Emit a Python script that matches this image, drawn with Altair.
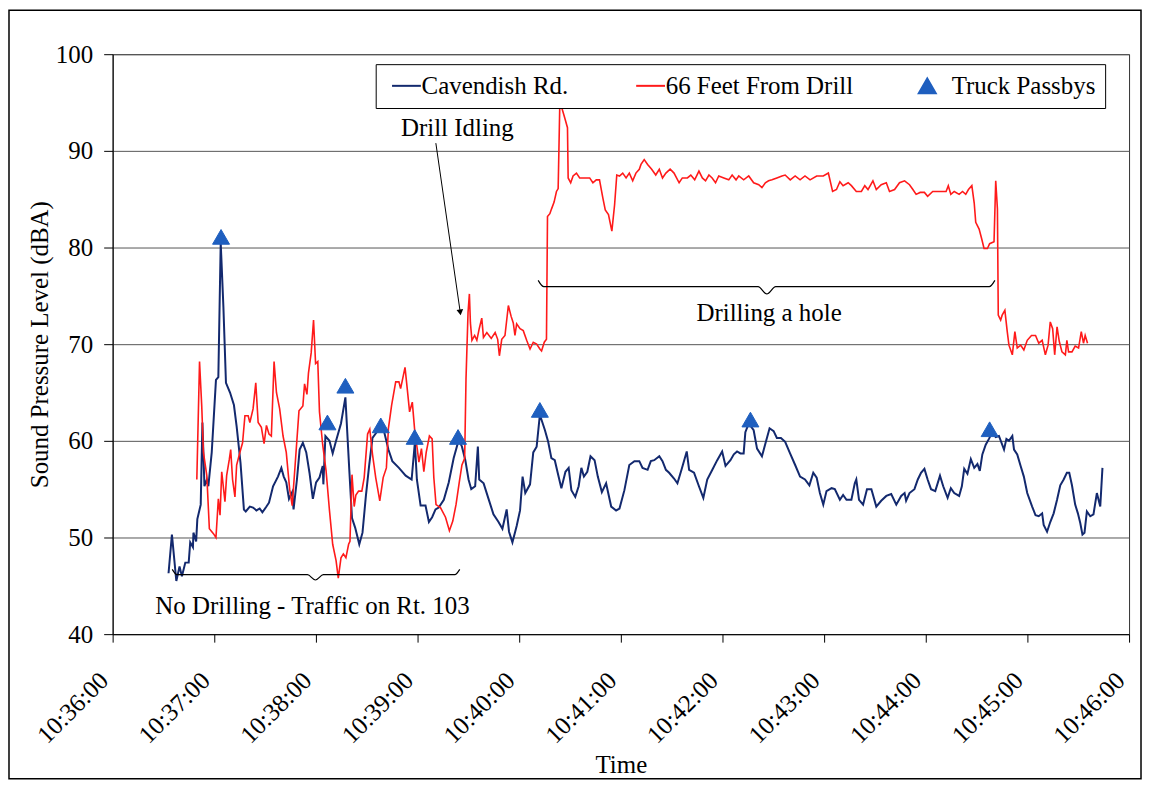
import altair as alt
import pandas as pd

# ---------------- data (seconds after 10:36:00, dBA) ----------------
cav_t = [33.0, 35.0, 37.6, 39.5, 40.9, 42.9, 44.9, 45.8, 47.4, 47.7, 49.3, 50.0, 52.0, 53.0, 54.2,
         55.6, 56.5, 58.5, 61.0, 62.4, 63.8, 65.4, 66.9, 69.3, 71.6, 73.2, 75.5, 77.5, 78.6, 81.0,
         82.9, 84.9, 86.8, 88.4, 90.8, 92.3, 94.7, 97.6, 99.6, 101.0, 102.5, 104.1, 106.0, 106.8,
         108.8, 110.4, 112.3, 114.3, 116.2, 118.2, 120.1, 122.1, 124.0, 124.4, 125.6, 128.0, 129.9,
         131.9, 134.8, 137.4, 139.7, 141.3, 143.2, 145.6, 147.5, 149.5, 151.4, 153.4, 156.3, 160.2,
         162.8, 165.1, 169.0, 173.0, 176.5, 178.4, 179.6, 181.8, 184.7, 186.7, 188.6, 190.6, 192.5,
         195.5, 198.4, 201.3, 204.3, 206.2, 208.2, 210.1, 211.7, 214.0, 215.6, 216.4, 219.0, 221.9,
         224.8, 227.8, 230.1, 232.6, 234.0, 236.0, 238.5, 240.5, 242.0, 243.6, 246.4, 248.3, 250.3,
         252.2, 255.2, 257.1, 259.0, 261.0, 263.0, 264.9, 267.3, 269.2, 270.8, 273.1, 275.1, 276.7,
         278.2, 280.2, 282.1, 284.5, 286.4, 288.8, 291.3, 294.3, 297.2, 299.2, 302.1, 305.0, 308.0,
         310.9, 312.8, 315.8, 317.7, 319.7, 322.7, 324.6, 326.6, 328.5, 331.4, 333.4, 335.8, 338.9,
         340.3, 343.2, 346.1, 348.7, 351.0, 354.0, 356.9, 359.8, 361.8, 364.7, 366.7, 368.6, 370.6,
         372.5, 373.5, 375.5, 378.4, 380.4, 383.3, 385.3, 387.8, 390.2, 392.1, 394.5, 397.0, 399.9,
         402.9, 405.8, 408.7, 411.3, 413.6, 415.6, 417.5, 419.5, 421.4, 424.4, 426.3, 429.3, 431.2,
         433.2, 436.1, 438.1, 439.0, 440.6, 443.0, 445.3, 447.9, 450.8, 453.7, 456.7, 459.6, 462.6,
         465.5, 467.5, 468.4, 470.4, 473.3, 475.3, 477.2, 479.2, 481.1, 483.1, 485.6, 488.4, 490.3,
         492.9, 494.8, 496.8, 499.7, 501.3, 502.7, 504.6, 506.6, 508.6, 510.5, 511.9, 513.4, 515.4,
         517.3, 519.3, 521.3, 523.2, 526.2, 527.6, 529.1, 531.1, 532.1, 534.0, 536.0, 537.9, 539.9,
         542.8, 544.8, 546.7, 548.7, 549.6, 551.6, 553.5, 555.5, 557.5, 559.4, 561.4, 563.3, 564.7,
         566.3, 568.2, 569.8, 571.2, 572.5, 573.7, 575.1, 577.1, 579.0, 581.0, 583.0, 584.3]
cav_v = [46.3, 50.3, 45.5, 47.0, 46.0, 47.4, 47.4, 49.5, 49.0, 50.5, 49.6, 51.9, 53.4, 61.9, 55.3,
         56.0, 55.3, 58.8, 66.3, 66.6, 80.5, 73.8, 66.0, 65.0, 63.7, 61.5, 57.7, 52.9, 52.7, 53.2,
         53.1, 52.8, 53.0, 52.6, 53.2, 53.6, 55.3, 56.3, 57.2, 56.3, 55.7, 54.0, 54.7, 52.9,
         56.0, 59.1, 59.8, 58.8, 56.7, 54.0, 55.7, 56.2, 57.4, 55.5, 60.5, 60.0, 58.7,
         60.0, 61.8, 64.5, 57.0, 52.0, 51.0, 49.3, 50.5, 54.3, 57.4, 60.3, 61.0, 61.0,
         59.1, 57.9, 57.2, 56.4, 56.0, 59.8, 56.0, 53.3, 53.3, 51.6, 52.1, 52.9, 53.1,
         53.9, 55.7, 58.2, 60.1, 59.4, 58.0, 56.0, 55.0, 55.3, 59.4, 56.0, 55.6, 54.0,
         52.4, 51.6, 50.9, 52.9, 50.6, 49.5, 51.2, 52.8, 56.3, 54.6, 55.5, 58.8, 59.4,
         62.7, 61.1, 59.9, 58.2, 58.0, 56.5, 55.1, 56.8, 57.2, 54.9, 54.2, 55.3, 57.2,
         56.3, 56.8, 58.4, 58.0, 56.3, 54.7, 55.6, 53.2, 52.8, 53.0, 54.9, 57.5, 57.9,
         57.9, 57.2, 57.0, 57.9, 58.0, 58.4, 57.9, 57.0, 56.7, 56.1, 55.6, 57.0, 58.9,
         57.0, 56.7, 55.3, 54.1, 56.0, 57.0, 58.0, 58.9, 57.4, 58.0, 58.6, 58.9, 58.7,
         58.7, 60.9, 61.8, 61.1, 59.2, 58.4, 59.7, 61.3, 61.0, 60.3, 60.3, 59.9, 58.7,
         57.5, 56.3, 56.0, 55.4, 56.7, 56.2, 54.6, 53.4, 54.8, 55.1, 55.0, 53.9, 54.4,
         53.9, 53.9, 55.6, 56.0, 53.9, 53.4, 55.0, 55.0, 53.2, 53.8, 54.3, 54.5, 53.4,
         54.3, 54.6, 53.8, 54.6, 55.0, 56.0, 56.7, 57.1, 56.0, 55.0, 54.8, 56.4, 55.3,
         54.1, 55.1, 54.6, 54.3, 55.3, 57.1, 56.6, 58.1, 57.2, 57.6, 56.9, 58.6, 59.6,
         60.2, 60.9, 60.4, 60.5, 59.1, 60.2, 60.0, 60.5, 59.1, 58.6, 57.4, 56.3, 54.6,
         53.2, 52.3, 52.2, 52.5, 51.3, 50.6, 51.6, 52.5, 53.9, 55.4, 56.0, 56.7, 56.7,
         55.4, 53.4, 52.5, 51.5, 50.3, 50.5, 52.7, 52.2, 52.4, 54.6, 53.2, 57.2]

drill_t = [49.7, 51.3, 52.6, 53.6, 55.6, 57.1, 59.5, 61.0, 62.4, 63.4, 64.4, 66.3, 67.3, 68.9, 69.7,
           70.8, 72.2, 73.2, 75.1, 76.7, 78.1, 80.0, 81.0, 82.9, 84.5, 85.9, 87.8, 89.4, 90.8, 92.3,
           93.7, 95.3, 96.7, 98.6, 100.6, 102.5, 104.5, 106.0, 107.4, 110.0, 112.3, 113.3, 114.7,
           115.6, 117.2, 118.6, 119.8, 121.1, 122.1, 124.0, 126.0, 128.0, 129.9, 131.9, 133.2,
           134.8, 136.2, 137.7, 139.3, 140.1, 141.3, 142.6, 143.6, 145.2, 147.1, 148.5, 150.5,
           151.8, 153.4, 155.3, 157.7, 159.7, 161.6, 162.8, 164.7, 167.1, 169.0, 170.0, 172.6,
           173.9, 175.3, 176.9, 178.4, 179.8, 180.8, 182.3, 183.7, 185.1, 187.0, 188.6, 189.6,
           190.9, 193.5, 196.5, 198.8, 200.8, 202.7, 204.7, 206.2, 207.8, 208.6, 209.8, 210.6,
           211.2, 212.1, 213.7, 215.0, 216.4, 217.9, 218.9, 220.9, 223.5, 225.8, 227.3, 228.3,
           229.7, 231.6, 233.6, 235.2, 236.5, 237.5, 238.5, 240.5, 242.4, 244.4, 246.4, 248.3,
           250.3, 252.2, 253.2, 254.8, 256.1, 256.7, 258.1, 259.1, 260.6, 262.0, 263.0, 264.0,
           265.4, 266.9, 268.5, 268.9, 270.4, 271.8, 273.8, 275.7, 278.6, 281.6, 283.5, 285.5,
           287.4, 289.4, 290.8, 292.7, 294.7, 296.3, 297.6, 299.2, 301.1, 303.1, 305.0, 307.0,
           308.9, 310.9, 311.9, 313.8, 315.8, 318.2, 320.6, 322.7, 324.6, 326.6, 329.1, 331.4,
           334.4, 336.3, 339.3, 341.3, 343.6, 346.1, 348.1, 350.0, 352.0, 353.9, 355.9, 357.8,
           360.8, 363.7, 365.7, 368.0, 369.6, 372.5, 375.5, 378.4, 381.4, 383.3, 385.3, 387.2,
           389.2, 392.1, 395.1, 397.0, 400.0, 402.9, 405.8, 408.7, 411.7, 415.6, 419.5, 422.5,
           425.0, 427.3, 429.3, 431.2, 434.2, 436.1, 439.0, 442.0, 444.0, 445.9, 448.8, 450.8,
           453.7, 456.7, 458.6, 461.6, 464.5, 467.5, 470.4, 472.4, 474.3, 476.7, 479.2, 481.1,
           484.1, 488.0, 492.0, 493.3, 494.8, 496.8, 499.7, 501.7, 503.6, 505.2, 507.2, 508.6,
           509.5, 511.5, 513.0, 514.4, 516.4, 517.7, 520.3, 521.3, 522.3, 522.8, 524.2, 525.1,
           526.7, 528.1, 529.1, 531.1, 532.6, 534.0, 536.0, 537.9, 539.9, 542.4, 544.8, 546.7,
           548.7, 550.6, 552.2, 553.5, 554.9, 556.1, 557.5, 558.8, 560.4, 562.4, 563.3, 564.3,
           566.3, 568.2, 570.2, 571.8, 573.1, 574.1, 575.5]
drill_v = [56.0, 68.2, 63.6, 58.8, 56.4, 50.9, 50.4, 50.0, 54.0, 52.3, 56.8, 53.7, 56.4, 58.1, 59.1,
           56.0, 54.2, 57.5, 58.8, 59.8, 62.6, 62.6, 61.9, 63.3, 66.0, 61.9, 61.4, 59.7, 61.6, 60.7,
           60.5, 68.2, 65.0, 63.3, 60.5, 58.8, 55.0, 53.3, 56.7, 63.1, 63.6, 65.9, 64.8,
           67.0, 69.1, 72.5, 68.0, 68.2, 63.0, 59.6, 56.9, 52.8, 49.3, 47.6, 45.8,
           47.9, 48.3, 47.9, 49.3, 49.6, 56.5, 53.2, 54.4, 54.8, 54.8, 56.2, 60.7,
           61.2, 58.6, 56.2, 53.8, 56.2, 57.2, 61.3, 63.7, 66.1, 66.1, 65.4, 67.6,
           65.4, 63.0, 64.0, 60.9, 59.2, 57.8, 59.2, 56.8, 58.8, 60.5, 60.2, 56.2,
           53.4, 53.1, 52.1, 50.7, 51.7, 53.4, 55.8, 57.5, 58.2, 66.4, 73.3, 75.2,
           72.2, 70.4, 70.9, 70.4, 71.6, 72.7, 70.7, 71.2, 70.6, 71.2, 70.5, 68.8,
           70.5, 70.9, 74.0, 72.9, 72.2, 70.9, 72.1, 71.6, 71.4, 70.4, 69.5, 70.2,
           70.0, 69.5, 69.3, 70.2, 70.5, 83.2, 83.5, 84.0, 84.7, 85.8, 86.1, 95.1,
           94.3, 93.4, 92.4, 87.2, 86.7, 87.4, 87.7, 87.2, 87.2, 87.2, 86.7, 87.0,
           87.0, 85.1, 83.9, 83.4, 81.7, 84.4, 87.5, 87.4, 87.7, 87.2, 87.7, 86.9,
           87.7, 88.1, 88.6, 89.1, 88.6, 88.1, 87.5, 88.1, 87.2, 87.7, 88.1, 87.7,
           86.7, 87.2, 87.2, 87.5, 87.0, 87.9, 87.2, 86.9, 87.5, 87.2, 86.7, 87.4,
           87.2, 87.0, 87.5, 87.0, 87.4, 87.0, 87.4, 86.7, 86.5, 86.2, 86.7, 86.9,
           87.0, 87.2, 87.4, 87.5, 87.0, 87.4, 87.0, 87.4, 87.0, 87.4, 87.4, 87.7,
           85.8, 86.0, 86.8, 86.4, 86.7, 86.4, 85.8, 85.8, 86.4, 86.0, 86.9, 86.0,
           86.5, 86.7, 85.8, 86.0, 86.7, 86.9, 86.5, 86.0, 85.5, 85.7, 85.7, 85.3,
           85.8, 85.8, 85.8, 86.4, 85.5, 85.8, 85.5, 85.8, 85.5, 86.0, 86.4, 84.6,
           82.6, 81.9, 80.9, 79.9, 79.9, 80.4, 80.6, 86.9, 84.0, 73.0, 72.5, 73.0,
           73.5, 71.3, 69.9, 68.9, 71.3, 69.6, 69.9, 69.4, 70.4, 70.9, 70.9, 70.1,
           70.4, 68.9, 69.9, 72.3, 71.6, 68.9, 71.8, 70.3, 69.2, 68.9, 70.4, 69.2,
           69.2, 69.8, 69.6, 71.3, 70.1, 70.9, 70.1]

truck_t = [64.0, 126.8, 137.4, 158.3, 178.3, 203.9, 252.2, 376.5, 517.7]
truck_v = [81.1, 61.9, 65.7, 61.6, 60.4, 60.4, 63.2, 62.2, 61.2]

series_names = ["Cavendish Rd.", "66 Feet From Drill", "Truck Passbys"]
series_colors = ["#13296e", "#ff1a1a", "#1f5fbf"]
legend_shapes = ["M-0.6,0H2.8", "M-0.6,0H2.8", "triangle-up"]

x_tick_seconds = [0, 60, 120, 180, 240, 300, 360, 420, 480, 540, 600]
x_tick_labels = ["10:36:00", "10:37:00", "10:38:00", "10:39:00", "10:40:00", "10:41:00",
                 "10:42:00", "10:43:00", "10:44:00", "10:45:00", "10:46:00"]
y_ticks = [40, 50, 60, 70, 80, 90, 100]

note_text = ["Drill Idling", "Drilling a hole", "No Drilling - Traffic on Rt. 103"]
note_t = [203.5, 387.5, 118.0]
note_v = [92.4, 73.2, 42.9]

brace1_t = [35.2, 38.0, 115.0, 119.7, 124.4, 202.0, 204.9]
brace1_v = [46.7, 46.15, 46.15, 45.6, 46.15, 46.15, 46.7]
brace2_t = [251.2, 254.5, 381.0, 386.2, 391.4, 517.5, 520.8]
brace2_v = [76.6, 75.95, 75.95, 75.2, 75.95, 75.95, 76.6]

arrow_t = [190.8, 205.2]
arrow_v = [90.8, 73.3]

FONT = "Liberation Serif"
FS = 25

# ---------------- frames ----------------
cav_df = pd.DataFrame({"t": cav_t, "v": cav_v, "series": series_names[0]})
drill_df = pd.DataFrame({"t": drill_t, "v": drill_v, "series": series_names[1]})
truck_df = pd.DataFrame({"t": truck_t, "v": truck_v, "series": series_names[2]})
notes_df = pd.DataFrame({"t": note_t, "v": note_v, "label": note_text})
braces_df = pd.concat([
    pd.DataFrame({"t": brace1_t, "v": brace1_v, "brace": "b1"}),
    pd.DataFrame({"t": brace2_t, "v": brace2_v, "brace": "b2"}),
])
arrow_df = pd.DataFrame({"t": [arrow_t[0]], "v": [arrow_v[0]], "t2": [arrow_t[1]], "v2": [arrow_v[1]]})
head_df = pd.DataFrame({"t": [arrow_t[1]], "v": [arrow_v[1]]})

label_expr = "[" + ",".join("'%s'" % s for s in x_tick_labels) + "][round(datum.value/60)]"

x_axis = alt.Axis(values=x_tick_seconds, labelExpr=label_expr, labelAngle=315, labelAlign="right",
                  labelBaseline="middle", labelFontSize=FS, labelFont=FONT, labelColor="black",
                  labelPadding=34, labelOffset=-9, tickSize=8, tickColor="black", domainColor="black",
                  title="Time", titleFontSize=FS, titleFont=FONT, titleFontWeight="normal",
                  titleColor="black", titlePadding=5, grid=False, labelOverlap=False,
                  labelBound=False, labelFlush=False)
y_axis = alt.Axis(values=y_ticks, labelFontSize=FS, labelFont=FONT, labelColor="black",
                  labelPadding=11, tickSize=9, tickColor="black", domainColor="black",
                  title="Sound Pressure Level (dBA)", titleFontSize=FS, titleFont=FONT,
                  titleFontWeight="normal", titleColor="black", titlePadding=3,
                  grid=True, gridColor="#555555", gridWidth=1)

x_enc = alt.X("t:Q", scale=alt.Scale(domain=[0, 600], nice=False, zero=False), axis=x_axis)
y_enc = alt.Y("v:Q", scale=alt.Scale(domain=[40, 100], nice=False, zero=False), axis=y_axis)

legend = alt.Legend(orient="none", legendX=264, legendY=10, direction="horizontal", title=None,
                    labelFont=FONT, labelFontSize=FS, labelColor="black", labelLimit=400,
                    strokeColor="black", fillColor="white", padding=9, columnPadding=60,
                    labelOffset=12, symbolSize=290, symbolStrokeWidth=2, symbolOpacity=1)

color_enc = alt.Color("series:N", scale=alt.Scale(domain=series_names, range=series_colors), legend=legend)
stroke_enc = alt.Stroke("series:N", scale=alt.Scale(domain=series_names, range=series_colors), legend=legend)
shape_enc = alt.Shape("series:N", scale=alt.Scale(domain=series_names, range=legend_shapes), legend=legend)

frame = alt.Chart(pd.DataFrame({"k": [0]})).mark_rect(fillOpacity=0, stroke="black", strokeWidth=1.5).encode(
    x=alt.value(-104), x2=alt.value(1032), y=alt.value(-44), y2=alt.value(727))

cav_line = alt.Chart(cav_df).mark_line(strokeWidth=2).encode(x=x_enc, y=y_enc, color=color_enc)
drill_line = alt.Chart(drill_df).mark_line(strokeWidth=1.6).encode(x=x_enc, y=y_enc, color=color_enc)
trucks = alt.Chart(truck_df).mark_point(filled=True, opacity=1, size=290, strokeWidth=1).encode(
    x=x_enc, y=y_enc, color=color_enc, stroke=stroke_enc, shape=shape_enc)

braces = alt.Chart(braces_df).mark_line(color="black", strokeWidth=1.2, interpolate="monotone").encode(
    x=x_enc, y=y_enc, detail="brace:N")
arrow = alt.Chart(arrow_df).mark_rule(color="black", strokeWidth=1).encode(
    x=x_enc, y=y_enc, x2="t2:Q", y2="v2:Q")
head = alt.Chart(head_df).mark_point(shape="triangle-down", filled=True, color="black", size=45,
                                     angle=352, opacity=1).encode(x=x_enc, y=y_enc)
notes = alt.Chart(notes_df).mark_text(font=FONT, fontSize=FS, color="black", align="center",
                                      baseline="middle").encode(x=x_enc, y=y_enc, text="label:N")

chart = alt.layer(frame, cav_line, drill_line, trucks, braces, arrow, head, notes).properties(
    width=1020, height=582,
    autosize=alt.AutoSizeParams(type="none"),
    padding={"left": 105, "top": 45, "right": 14, "bottom": 146},
    background="white",
).configure(font=FONT).configure_view(stroke="#333333", strokeWidth=1)

chart.save("out.html", embed_options={"renderer": "svg", "actions": False})
